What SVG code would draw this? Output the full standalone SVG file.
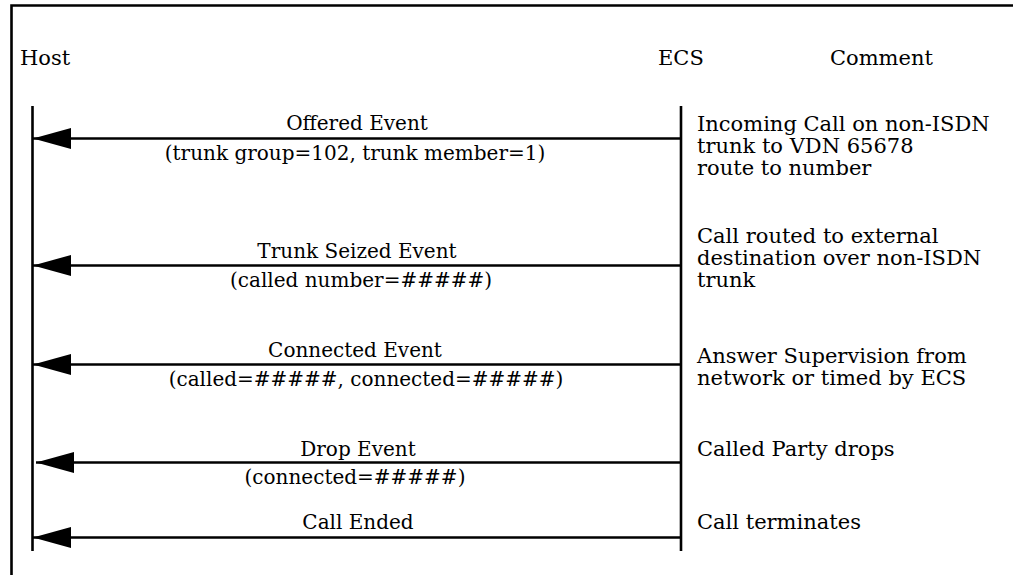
<svg xmlns="http://www.w3.org/2000/svg" width="1013" height="575" viewBox="0 0 1013 575">
  <defs>
    <marker id="arrow" markerUnits="userSpaceOnUse" viewBox="0 0 38 21" refX="38" refY="10.5" markerWidth="38" markerHeight="21" orient="auto">
      <path d="M0,0 L38,10.5 L0,21 z" fill="#000"/>
    </marker>
    <style>
      .t { font-family: "DejaVu Serif", "Liberation Serif", serif; font-size: 20px; fill: #000; }
      .h { font-size: 21px; }
      .cm { font-size: 21px; }
      .c { text-anchor: middle; }
      .ln { stroke: #000; stroke-width: 2.6; fill: none; }
      .msg { stroke: #000; stroke-width: 2.4; fill: none; marker-end: url(#arrow); }
    </style>
  </defs>
  <rect width="1013" height="575" fill="#fff"/>

  <g id="frame">
    <path class="ln" d="M11.5,575 L11.5,5.5 L1013,5.5"/>
  </g>

  <g id="host">
    <text class="t h" x="20" y="65">Host</text>
    <line class="ln" x1="32.5" y1="106" x2="32.5" y2="551"/>
  </g>

  <g id="ecs">
    <text class="t h" x="658" y="65">ECS</text>
    <line class="ln" x1="681" y1="106" x2="681" y2="551"/>
  </g>

  <g id="comment">
    <text class="t h" x="830" y="65">Comment</text>
    <text class="t cm" x="697" y="131">Incoming Call on non-ISDN</text>
    <text class="t cm" x="697" y="153">trunk to VDN 65678</text>
    <text class="t cm" x="697" y="175">route to number</text>
    <text class="t cm" x="697" y="243">Call routed to external</text>
    <text class="t cm" x="697" y="265">destination over non-ISDN</text>
    <text class="t cm" x="697" y="287">trunk</text>
    <text class="t cm" x="697" y="363">Answer Supervision from</text>
    <text class="t cm" x="697" y="385">network or timed by ECS</text>
    <text class="t cm" x="697" y="456">Called Party drops</text>
    <text class="t cm" x="697" y="529">Call terminates</text>
  </g>

  <g id="connectors">
    <line class="msg" x1="681" y1="138.5" x2="33" y2="138.5"/>
    <text class="t c" x="357" y="130">Offered Event</text>
    <text class="t c" x="355" y="160">(trunk group=102, trunk member=1)</text>

    <line class="msg" x1="681" y1="265.5" x2="33" y2="265.5"/>
    <text class="t c" x="357" y="258">Trunk Seized Event</text>
    <text class="t c" x="361" y="287">(called number=#####)</text>

    <line class="msg" x1="681" y1="364.5" x2="33" y2="364.5"/>
    <text class="t c" x="355" y="357">Connected Event</text>
    <text class="t c" x="366" y="386">(called=#####, connected=#####)</text>

    <line class="msg" x1="681" y1="462.5" x2="36" y2="462.5"/>
    <text class="t c" x="358" y="456">Drop Event</text>
    <text class="t c" x="355" y="484">(connected=#####)</text>

    <line class="msg" x1="681" y1="537.5" x2="33" y2="537.5"/>
    <text class="t c" x="358" y="529">Call Ended</text>
  </g>
</svg>
